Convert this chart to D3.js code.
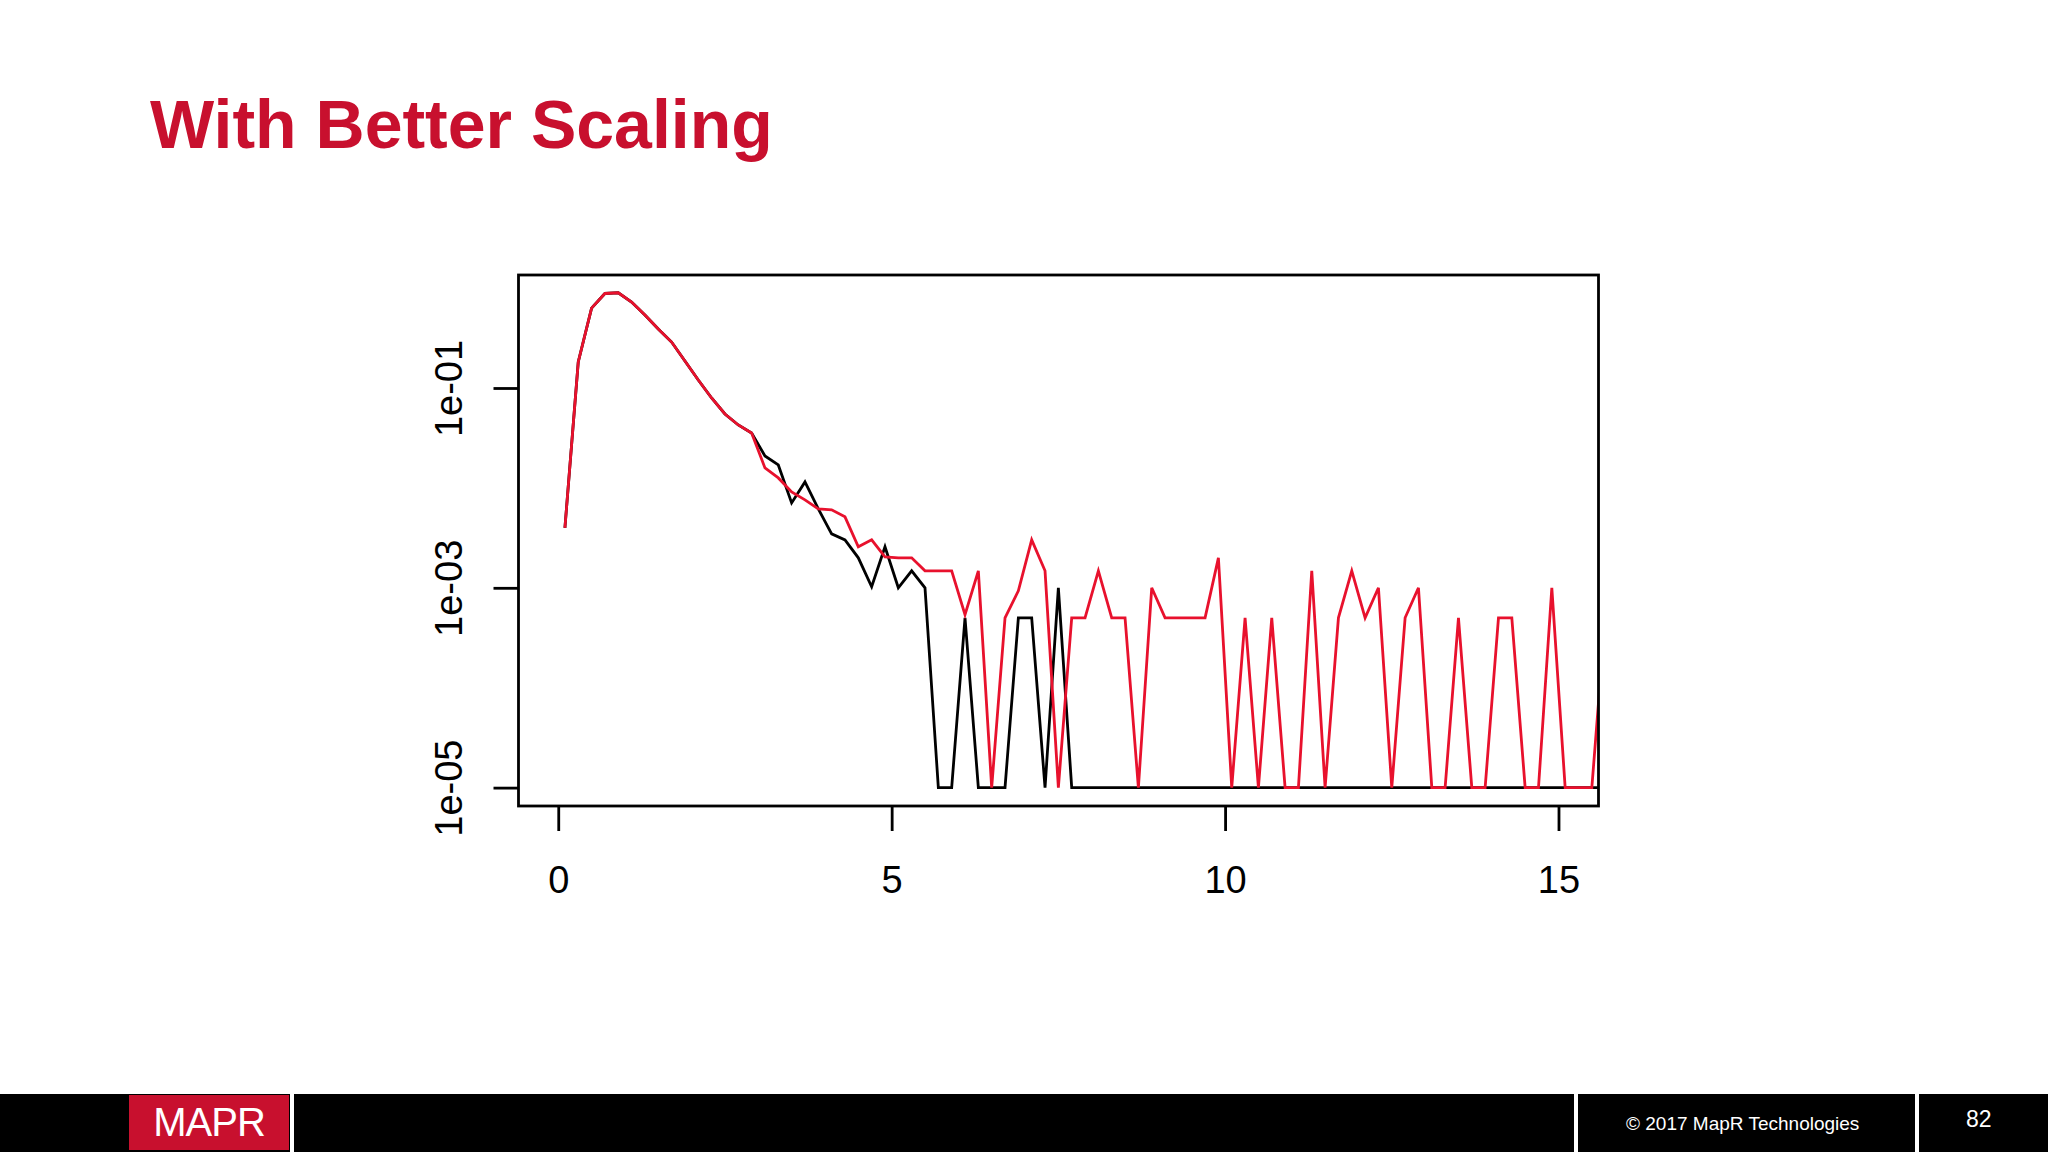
<!DOCTYPE html>
<html><head><meta charset="utf-8">
<script src="https://cdn.jsdelivr.net/npm/d3@7"></script>
<style>body{margin:0;background:#fff}svg{display:block}</style></head>
<body><svg id="c" width="2048" height="1152"></svg>
<script>
const xValues = [0.1,0.3,0.5,0.7,0.9,1.1,1.3,1.5,1.7,1.9,2.1,2.3,2.5,2.7,2.9,3.1,3.3,3.5,3.7,3.9,4.1,4.3,4.5,4.7,4.9,5.1,5.3,5.5,5.7,5.9,6.1,6.3,6.5,6.7,6.9,7.1,7.3,7.5,7.7,7.9,8.1,8.3,8.5,8.7,8.9,9.1,9.3,9.5,9.7,9.9,10.1,10.3,10.5,10.7,10.9,11.1,11.3,11.5,11.7,11.9,12.1,12.3,12.5,12.7,12.9,13.1,13.3,13.5,13.7,13.9,14.1,14.3,14.5,14.7,14.9,15.1,15.3,15.5,15.7];
// log10 of the plotted values
const blackLog = [-2.40,-0.74,-0.20,-0.054,-0.047,-0.14,-0.27,-0.41,-0.54,-0.73,-0.92,-1.10,-1.26,-1.37,-1.45,-1.68,-1.77,-2.15,-1.94,-2.21,-2.46,-2.52,-2.70,-2.99,-2.59,-3.0,-2.83,-3.0,-5,-5,-3.30,-5,-5,-5,-3.30,-3.30,-5,-3.0,-5,-5,-5,-5,-5,-5,-5,-5,-5,-5,-5,-5,-5,-5,-5,-5,-5,-5,-5,-5,-5,-5,-5,-5,-5,-5,-5,-5,-5,-5,-5,-5,-5,-5,-5,-5,-5,-5,-5,-5,-5];
const redLog = [-2.40,-0.74,-0.20,-0.054,-0.047,-0.14,-0.27,-0.41,-0.54,-0.73,-0.92,-1.10,-1.26,-1.37,-1.45,-1.80,-1.90,-2.04,-2.12,-2.21,-2.22,-2.29,-2.59,-2.52,-2.69,-2.70,-2.70,-2.83,-2.83,-2.83,-3.27,-2.83,-5,-3.30,-3.03,-2.52,-2.83,-5,-3.30,-3.30,-2.83,-3.30,-3.30,-5,-3.0,-3.30,-3.30,-3.30,-3.30,-2.70,-5,-3.30,-5,-3.30,-5,-5,-2.83,-5,-3.30,-2.83,-3.30,-3.0,-5,-3.30,-3.0,-5,-5,-3.30,-5,-5,-3.30,-3.30,-5,-5,-3.0,-5,-5,-5,-3.30];
const xTicks = [0,5,10,15];
const yTicks = [1e-1,1e-3,1e-5];
const yTickLabels = ["1e-01","1e-03","1e-05"];

const svg = d3.select("#c");
const red = "#c8102e";
const font="Liberation Sans, Arial, sans-serif";
svg.append("text").attr("x",150).attr("y",148).attr("font-family",font)
  .attr("font-weight","bold").attr("font-size",68).attr("fill",red).text("With Better Scaling");

const L=518.5,R=1598.5,T=275,B=806;
const x = d3.scaleLinear().domain([-0.596,15.6]).range([L,R]);
const y = d3.scaleLog().domain([Math.pow(10,-5.184),Math.pow(10,0.131)]).range([B,T]);

svg.append("clipPath").attr("id","clip").append("rect").attr("x",L).attr("y",T).attr("width",R-L).attr("height",B-T);
const line = d3.line().x(d=>x(d[0])).y(d=>y(Math.pow(10,d[1])));
svg.append("path").attr("clip-path","url(#clip)").datum(xValues.map((v,i)=>[v,blackLog[i]]))
  .attr("d",line).attr("fill","none").attr("stroke","#000").attr("stroke-width",2.8);
svg.append("path").attr("clip-path","url(#clip)").datum(xValues.map((v,i)=>[v,redLog[i]]))
  .attr("d",line).attr("fill","none").attr("stroke","#e8112d").attr("stroke-width",2.8);

svg.append("rect").attr("x",L).attr("y",T).attr("width",R-L).attr("height",B-T)
  .attr("fill","none").attr("stroke","#000").attr("stroke-width",2.8);

const xa = svg.append("g").attr("transform",`translate(0,${B})`)
  .call(d3.axisBottom(x).tickValues(xTicks).tickSize(25).tickSizeOuter(0).tickFormat(d3.format("d")));
xa.select(".domain").remove();
xa.selectAll(".tick line").attr("stroke-width",2.8);
xa.selectAll(".tick text").attr("font-family",font).attr("font-size",38).attr("y",60).attr("dy","0.71em");

const ya = svg.append("g").attr("transform",`translate(${L},0)`)
  .call(d3.axisLeft(y).tickValues(yTicks).tickSize(25).tickSizeOuter(0).tickFormat((d,i)=>yTickLabels[i]));
ya.select(".domain").remove();
ya.selectAll(".tick line").attr("stroke-width",2.8);
ya.selectAll(".tick text").attr("font-family",font).attr("font-size",38)
  .attr("x",0).attr("dy",0).attr("text-anchor","middle").attr("transform","translate(-70,0) rotate(-90)").attr("dominant-baseline","central");

// footer
svg.append("rect").attr("x",0).attr("y",1094).attr("width",2048).attr("height",58).attr("fill","#000");
svg.append("rect").attr("x",129).attr("y",1095).attr("width",160).attr("height",55).attr("fill","#c8102e");
[[290,4],[1574,4],[1915,4]].forEach(([a,w])=>svg.append("rect").attr("x",a).attr("y",1094).attr("width",w).attr("height",58).attr("fill","#fff"));
svg.append("text").attr("x",209).attr("y",1136).attr("text-anchor","middle").attr("font-family",font)
  .attr("font-size",40).attr("fill","#fff").attr("letter-spacing",-1).text("MAPR");
svg.append("text").attr("x",1626).attr("y",1130).attr("font-family",font).attr("font-size",19).attr("fill","#fff").text("© 2017 MapR Technologies");
svg.append("text").attr("x",1966).attr("y",1127).attr("font-family",font).attr("font-size",23).attr("fill","#fff").text("82");
</script></body></html>
